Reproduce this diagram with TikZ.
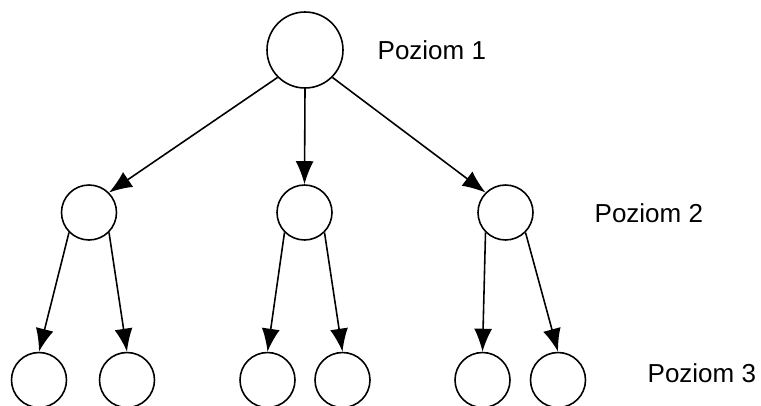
\documentclass[tikz,border=0pt]{standalone}
\usepackage{fontspec}
\setmainfont{Liberation Sans}
\usetikzlibrary{arrows.meta}
\tikzset{
  wezel/.style={circle,draw,line width=0.9pt,inner sep=0pt},
  duzy/.style={wezel,minimum size=1.52cm},
  maly/.style={wezel,minimum size=1.1cm},
  poziom/.style={anchor=west,font=\fontsize{14.8}{17}\selectfont}
}
\begin{document}
\begin{tikzpicture}[>={Latex[length=4.6mm,width=3.6mm]},line width=0.9pt]
   \useasboundingbox (0,0) rectangle (15.22,8.1);
   \node[duzy] (a) at (6.1,7.1) {};

   \node[maly] (b) at (1.78,3.85) {};
   \node[maly] (c) at (6.09,3.85) {};
   \node[maly] (d) at (10.11,3.85) {};

   \node[maly] (e) at (0.78,0.5) {};
   \node[maly] (f) at (2.54,0.5) {};
   \node[maly] (g) at (5.35,0.5) {};
   \node[maly] (h) at (6.85,0.5) {};
   \node[maly] (i) at (9.65,0.5) {};
   \node[maly] (j) at (11.16,0.5) {};

   \node[poziom] (p1) at (7.42,7.1) {Poziom 1};
   \node[poziom] (p2) at (11.76,3.84) {Poziom 2};
   \node[poziom] (p3) at (12.82,0.64) {Poziom 3};

   \draw [->] (a.south west) -- (b.north east) ;
   \draw [->] (a.south) -- (c.north) ;
   \draw [->] (a.south east) -- (d.north west) ;

   \draw [->] (b.south west) -- (e.north) ;
   \draw [->] (b.south east) -- (f.north) ;
   \draw [->] (c.south west) -- (g.north) ;
   \draw [->] (c.south east) -- (h.north) ;
   \draw [->] (d.south west) -- (i.north) ;
   \draw [->] (d.south east) -- (j.north) ;
\end{tikzpicture}
\end{document}
